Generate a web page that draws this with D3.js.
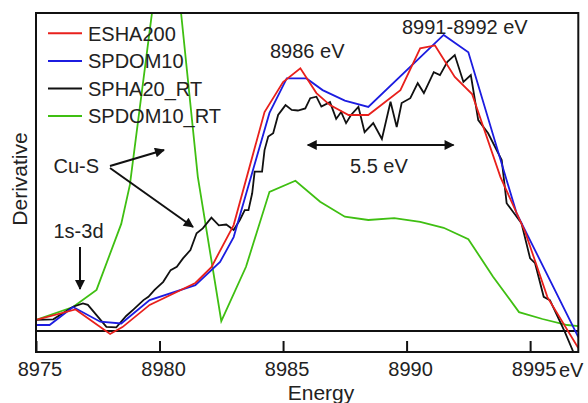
<!DOCTYPE html>
<html>
<head>
<meta charset="utf-8">
<script src="https://cdn.jsdelivr.net/npm/d3@7/dist/d3.min.js"></script>
<style>
  body { margin: 0; background: #fff; }
  text { font-family: Arial, "Liberation Sans", Helvetica, sans-serif; fill: #222; }
</style>
</head>
<body>
<div id="chart"></div>
<script>
// energy (eV), derivative (arb. units)
var esha200 = [
  [8975.0, 3.7], [8976.6, 7.2], [8978.0, -1.0], [8978.5, 1.3], [8979.6, 8.7],
  [8981.45, 16], [8982.1, 21.3], [8983.0, 35.3], [8984.25, 73], [8985.0, 83],
  [8985.7, 87.6], [8986.35, 79.3], [8986.9, 75.3], [8987.65, 72], [8988.45, 72],
  [8989.75, 80.3], [8990.55, 94.2], [8991.15, 95.2], [8991.95, 84.7], [8992.65, 79],
  [8993.8, 51.3], [8994.8, 33], [8995.7, 11.3], [8996.95, -5.7]
];

var spdom10 = [
  [8975.0, 2], [8975.55, 2], [8976.5, 8], [8977.6, 3.1], [8978.45, 2.5],
  [8979.6, 10.3], [8981.45, 15.3], [8982.45, 23], [8983.0, 31.3], [8984.45, 72.7],
  [8985.15, 84.2], [8985.95, 84.2], [8986.6, 80.3], [8987.5, 76.8], [8988.45, 74.7],
  [8991.5, 98.7], [8992.5, 92.9], [8994.45, 39.3], [8996.95, -2]
];

var spha20rt = [
  [8975.0, 3.7], [8975.7, 3.9], [8976.1, 6], [8976.5, 8.1], [8976.9, 9.2],
  [8977.1, 8.7], [8977.45, 5.3], [8977.85, 1.4], [8978.25, 1.2], [8978.65, 5],
  [8978.95, 7.2], [8979.35, 10.3], [8979.55, 11.4], [8979.8, 13.7], [8980.15, 16.4],
  [8980.45, 20.3], [8980.7, 21.4], [8980.95, 24.2], [8981.25, 27], [8981.5, 32.6],
  [8981.75, 34.2], [8982.1, 37.8], [8982.4, 35.2], [8982.7, 35.5], [8983.0, 33.7],
  [8983.25, 37], [8983.45, 40.3], [8983.6, 40.3], [8983.75, 45.9], [8983.85, 53.1],
  [8984.15, 53.1], [8984.25, 60.3], [8984.4, 64.8], [8984.6, 65.9], [8984.8, 72],
  [8985.1, 75.3], [8985.35, 73.7], [8985.6, 73.5], [8985.9, 74.2], [8986.1, 77.6],
  [8986.35, 78.1], [8986.55, 74.8], [8986.9, 76.3], [8987.15, 70.7], [8987.35, 73],
  [8987.55, 69.3], [8987.75, 72], [8988.05, 74.7], [8988.3, 66.3], [8988.65, 69.3],
  [8989.0, 64], [8989.35, 76.4], [8989.6, 68], [8989.8, 76], [8990.15, 77.6],
  [8990.45, 82.6], [8990.7, 79.3], [8991.1, 86.3], [8991.35, 85.3], [8991.65, 89.7],
  [8991.95, 92], [8992.3, 83], [8992.6, 85.3], [8992.9, 70.3], [8993.3, 65.9],
  [8993.85, 57], [8994.05, 42.6], [8994.65, 35.9], [8995.0, 24.2], [8995.2, 22.6],
  [8995.55, 11.4], [8995.8, 10.3], [8996.4, -0.2], [8996.75, -7]
];

var spdom10rt = [
  [8975.0, 3.7], [8976.5, 8], [8977.45, 13.7], [8978.45, 35.7], [8978.8, 48.7],
  [8980.35, 148], [8981.55, 51.4], [8982.5, 3.3], [8983.5, 21.4], [8984.45, 46.4],
  [8985.5, 50.1], [8986.5, 43.1], [8987.5, 38.1], [8988.45, 37], [8989.5, 37.6],
  [8990.55, 36.4], [8991.5, 34.4], [8992.5, 30.6], [8993.5, 18.1], [8994.55, 6.3],
  [8995.5, 4], [8996.5, 2], [8996.95, 1.6]
];

var series = [
  { name: 'ESHA200', color: '#e8201c', points: esha200 },
  { name: 'SPDOM10', color: '#1c1ce0', points: spdom10 },
  { name: 'SPHA20_RT', color: '#111111', points: spha20rt },
  { name: 'SPDOM10_RT', color: '#3fbf12', points: spdom10rt }
];

var tickValues = [8975, 8980, 8985, 8990, 8995];

var width = 588, height = 403;
var plotLeft = 36, plotRight = 578.3, plotTop = 13, plotBottom = 352;

var svg = d3.select('#chart').append('svg')
    .attr('width', width)
    .attr('height', height);

var x = d3.scaleLinear().domain([8975, 8996.95]).range([plotLeft, plotRight]);
var y = d3.scaleLinear().domain([-7, 106]).range([plotBottom, plotTop]);

var defs = svg.append('defs');

defs.append('clipPath')
    .attr('id', 'plot-clip')
  .append('rect')
    .attr('x', plotLeft)
    .attr('y', plotTop)
    .attr('width', plotRight - plotLeft)
    .attr('height', plotBottom - plotTop);

// arrow heads
defs.append('marker')
    .attr('id', 'head')
    .attr('viewBox', '0 0 10 10')
    .attr('refX', 9)
    .attr('refY', 5)
    .attr('markerUnits', 'userSpaceOnUse')
    .attr('markerWidth', 14)
    .attr('markerHeight', 10)
    .attr('orient', 'auto-start-reverse')
  .append('path')
    .attr('d', 'M0,0 L10,5 L0,10 z')
    .attr('fill', '#111');

// zero line
svg.append('line')
    .attr('x1', plotLeft)
    .attr('x2', plotRight)
    .attr('y1', y(0))
    .attr('y2', y(0))
    .attr('stroke', '#111')
    .attr('stroke-width', 2);

var line = d3.line()
    .x(function(d) { return x(d[0]); })
    .y(function(d) { return y(d[1]); });

// draw green first so the others sit on top
svg.append('g')
    .attr('clip-path', 'url(#plot-clip)')
  .selectAll('path')
    .data(series.slice().reverse())
    .enter().append('path')
    .attr('d', function(d) { return line(d.points); })
    .attr('fill', 'none')
    .attr('stroke', function(d) { return d.color; })
    .attr('stroke-width', 1.8)
    .attr('stroke-linejoin', 'miter');

// frame
svg.append('rect')
    .attr('x', plotLeft)
    .attr('y', plotTop)
    .attr('width', plotRight - plotLeft)
    .attr('height', plotBottom - plotTop)
    .attr('fill', 'none')
    .attr('stroke', '#111')
    .attr('stroke-width', 2);

var xAxis = d3.axisBottom(x)
    .tickValues(tickValues)
    .tickSizeInner(-11)
    .tickSizeOuter(0)
    .tickPadding(10)
    .tickFormat(d3.format('d'));

var gx = svg.append('g')
    .attr('transform', 'translate(0,' + plotBottom + ')')
    .call(xAxis);
gx.select('.domain').remove();
gx.selectAll('.tick line')
    .attr('stroke', '#111')
    .attr('stroke-width', 2);
gx.selectAll('.tick text')
    .attr('dx', 3.5)
    .style('font-size', '20px')
    .style('font-family', 'Arial, "Liberation Sans", sans-serif')
    .attr('fill', '#222');

svg.append('text')
    .attr('x', 559)
    .attr('y', 376.5)
    .style('font-size', '20px')
    .text('eV');

svg.append('text')
    .attr('x', 321)
    .attr('y', 400)
    .attr('text-anchor', 'middle')
    .style('font-size', '21px')
    .text('Energy');

svg.append('text')
    .attr('transform', 'translate(27,179) rotate(-90)')
    .attr('text-anchor', 'middle')
    .style('font-size', '21px')
    .text('Derivative');

// legend
var legend = svg.selectAll('g.legend')
    .data(series)
    .enter().append('g')
    .attr('class', 'legend')
    .attr('transform', function(d, i) { return 'translate(0,' + (33.3 + i * 27.6) + ')'; });

legend.append('line')
    .attr('x1', 48)
    .attr('x2', 82)
    .attr('stroke', function(d) { return d.color; })
    .attr('stroke-width', 2);

legend.append('text')
    .attr('x', 88)
    .attr('y', 7.3)
    .style('font-size', '20px')
    .text(function(d) { return d.name; });

// annotations
function label(txt, px, py) {
  svg.append('text')
      .attr('x', px)
      .attr('y', py)
      .style('font-size', '20px')
      .text(txt);
}

function arrow(x1, y1, x2, y2, both) {
  var a = svg.append('line')
      .attr('x1', x1).attr('y1', y1)
      .attr('x2', x2).attr('y2', y2)
      .attr('stroke', '#111')
      .attr('stroke-width', 2)
      .attr('marker-end', 'url(#head)');
  if (both) a.attr('marker-start', 'url(#head)');
}

label('8986 eV', 270, 58.3);
label('8991-8992 eV', 402, 34);
label('5.5 eV', 350, 173.3);
label('Cu-S', 53.5, 173.3);
label('1s-3d', 53.5, 238.3);

arrow(x(8986.0), 145, x(8991.9), 145, true);
arrow(110, 166, 164, 150, false);
arrow(110, 168, 193, 227, false);
arrow(80, 247, 80, 289, false);
</script>
</body>
</html>
